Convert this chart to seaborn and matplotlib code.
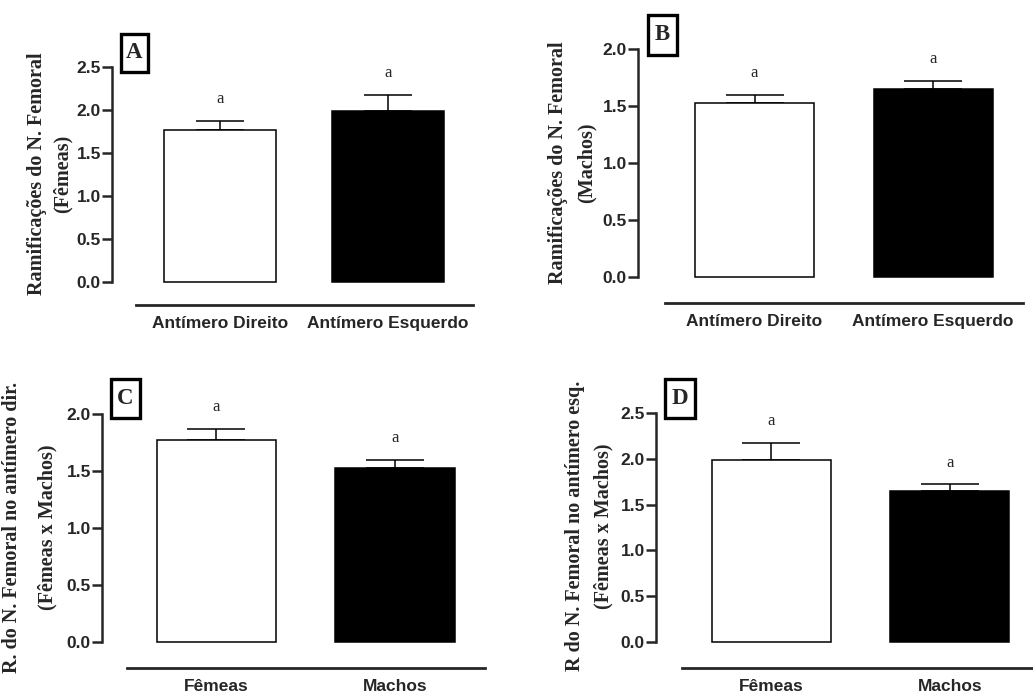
import numpy as np
import pandas as pd
import seaborn as sns
import matplotlib.pyplot as plt
from matplotlib.patches import Rectangle

sns.set_style("ticks")
plt.rcParams['font.family'] = ['Liberation Sans', 'DejaVu Sans']

# dados (média e erro padrão)
lados = ["Antímero Direito", "Antímero Esquerdo"]
sexos = ["Fêmeas", "Machos"]
femeas_media = [1.77, 1.99]
femeas_epm = [0.10, 0.18]
machos_media = [1.53, 1.65]
machos_epm = [0.07, 0.07]
letras = ["a", "a"]
cores = ["white", "black"]

W, H = 1033, 695
fig = plt.figure(figsize=(W / 100, H / 100), dpi=100)
serif = ['Liberation Serif', 'DejaVu Serif']


def painel(px, cats, medias, epm, ymax, xlim, letra, caixa, rotulos, rot_x, rot_y, cap, out):
    left, right, top, bottom = px
    ax = fig.add_axes([left / W, 1 - bottom / H, (right - left) / W, (bottom - top) / H])
    df = pd.DataFrame({"grupo": cats, "valor": medias})
    sns.barplot(data=df, x="grupo", y="valor", hue="grupo", palette=cores,
                edgecolor="black", linewidth=1.1, width=0.667,
                errorbar=None, legend=False, ax=ax)
    for p in ax.patches:
        p.set_clip_on(False)
    ax.errorbar(range(len(cats)), medias, yerr=[[0] * len(epm), epm], fmt='none',
                ecolor='black', elinewidth=1.1, capsize=cap, capthick=1.1, zorder=0.5)
    for i, (m, e) in enumerate(zip(medias, epm)):
        ax.annotate(letras[i], (i, m + e), xytext=(0, 15.8), textcoords='offset points',
                    ha='center', va='center', family=serif, fontsize=12,
                    annotation_clip=False)
    ax.set_xlim(*xlim)
    ax.set_ylim(0, ymax)
    ax.set_yticks(np.arange(0, ymax + 0.01, 0.5))
    ax.set_yticklabels([f"{v:.1f}" for v in np.arange(0, ymax + 0.01, 0.5)])
    sns.despine(ax=ax)
    ax.spines['left'].set_linewidth(1.8)
    ax.spines['bottom'].set_linewidth(2.0)
    ax.spines['bottom'].set_position(('outward', out))
    ax.spines['bottom'].set_bounds(-0.5, xlim[1])
    ax.tick_params(axis='y', length=7, width=1.8, labelsize=12.5, pad=1)
    ax.tick_params(axis='x', length=0, labelsize=12.5, pad=8)
    plt.setp(ax.get_yticklabels(), fontweight='bold')
    plt.setp(ax.get_xticklabels(), fontweight='bold')
    ax.set_xlabel("")
    ax.set_ylabel("")

    # caixa com a letra do painel
    x0, y0, x1, y1 = caixa
    fig.add_artist(Rectangle((x0 / W, 1 - y1 / H), (x1 - x0) / W, (y1 - y0) / H,
                             transform=fig.transFigure, fc='white', ec='black', lw=2.4))
    fig.text((x0 + x1) / 2 / W, 1 - (y0 + y1) / 2 / H, letra, ha='center', va='center',
             family=serif, fontweight='bold', fontsize=16.5)
    # rótulo do eixo y (duas linhas)
    for txt, x in zip(rotulos, rot_x):
        fig.text(x / W, 1 - rot_y / H, txt, rotation=90, ha='center', va='center',
                 family=serif, fontweight='bold', fontsize=14.5)
    return ax


painel((112, 473, 67, 282), lados, femeas_media, femeas_epm, 2.5, (-0.643, 1.506),
       "A", (121, 34, 148, 72), ["Ramificações do N. Femoral", "(Fêmeas)"], (37, 63), 174, 17, 16.6)
painel((638, 1023, 49, 277), lados, machos_media, machos_epm, 2.0, (-0.653, 1.504),
       "B", (648, 15, 677, 55), ["Ramificações do N. Femoral", "(Machos)"], (558, 587), 163, 21, 18.7)
painel((102, 485, 414, 642), sexos, [femeas_media[0], machos_media[0]],
       [femeas_epm[0], machos_epm[0]], 2.0, (-0.641, 1.504),
       "C", (111, 379, 140, 418), ["R. do N. Femoral no antímero dir.", "(Fêmeas x Machos)"],
       (12, 47), 527, 21, 18.7)
painel((656, 1033, 413, 642), sexos, [femeas_media[1], machos_media[1]],
       [femeas_epm[1], machos_epm[1]], 2.5, (-0.647, 1.466),
       "D", (665, 379, 695, 418), ["R do N. Femoral no antímero esq.", "(Fêmeas x Machos)"],
       (575, 603), 526, 21, 18.7)

fig.savefig("out.png", dpi=100)
